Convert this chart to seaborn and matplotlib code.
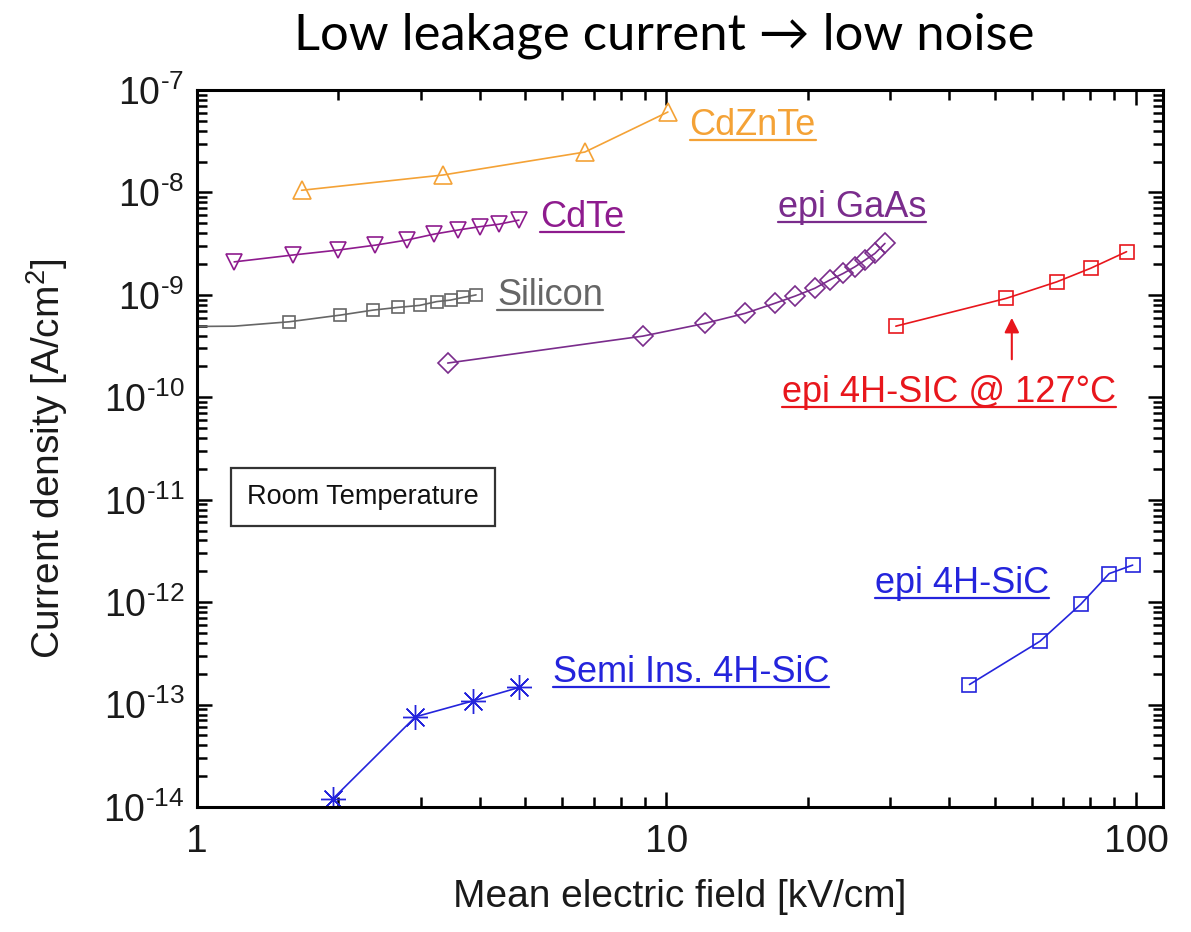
import numpy as np
import pandas as pd
import matplotlib
matplotlib.use("Agg")
import matplotlib.pyplot as plt
from matplotlib.lines import Line2D
import seaborn as sns

# ---------------- data ----------------
cdznte_x = [1.67, 3.34, 6.7, 10.07]
cdznte_y = [1.05e-8, 1.48e-8, 2.48e-8, 6.1e-8]

cdte_x = [1.2, 1.6, 2.0, 2.4, 2.8, 3.2, 3.6, 4.0, 4.4, 4.85]
cdte_y = [2.1e-9, 2.45e-9, 2.74e-9, 3.06e-9, 3.43e-9, 3.92e-9, 4.3e-9, 4.63e-9, 4.9e-9, 5.37e-9]

silicon_x = [0.9, 1.2, 1.57, 2.02, 2.37, 2.68, 2.98, 3.24, 3.47, 3.69, 3.93]
silicon_y = [4.9e-10, 4.95e-10, 5.46e-10, 6.35e-10, 7.1e-10, 7.55e-10, 7.9e-10, 8.6e-10, 8.9e-10, 9.46e-10, 1.0e-9]

gaas_x = [3.42, 8.91, 12.08, 14.7, 17.0, 18.8, 20.7, 22.3, 23.8, 25.2, 26.5, 27.8, 29.2]
gaas_y = [2.16e-10, 3.96e-10, 5.27e-10, 6.6e-10, 8.26e-10, 9.73e-10, 1.16e-9, 1.40e-9,
          1.62e-9, 1.88e-9, 2.19e-9, 2.54e-9, 3.18e-9]

sic127_x = [30.8, 52.9, 67.8, 80.1, 95.5]
sic127_y = [4.95e-10, 9.24e-10, 1.34e-9, 1.82e-9, 2.64e-9]

episic_x = [44.2, 62.5, 76.3, 87.7, 98.4]
episic_y = [1.57e-13, 4.16e-13, 9.55e-13, 1.9e-12, 2.3e-12]

semi_x = [1.95, 2.92, 3.88, 4.85]
semi_y = [1.21e-14, 7.6e-14, 1.09e-13, 1.47e-13]

x_ticks = [1, 10, 100]
x_ticklabels = ["1", "10", "100"]
y_exponents = list(range(-14, -6))

# ---------------- style ----------------
sns.set_style("ticks")
plt.rcParams["font.family"] = ["Liberation Sans", "DejaVu Sans"]
plt.rcParams["mathtext.fontset"] = "custom"
plt.rcParams["mathtext.rm"] = "Liberation Sans"
plt.rcParams["mathtext.it"] = "Liberation Sans"
plt.rcParams["axes.unicode_minus"] = False

ORANGE = "#F4A236"
PURPLE = "#8E1B8E"
GAAS = "#7A2C8C"
GRAY = "#666666"
RED = "#E8161C"
BLUE = "#2424DC"
TXT = "#1a1a1a"

fig = plt.figure(figsize=(11.91, 9.32), dpi=100)
ax = fig.add_axes([0.1654, 0.1341, 0.8111, 0.7693])
ax.set_xscale("log")
ax.set_yscale("log")

common = dict(ax=ax, sort=False, estimator=None, linewidth=1.2, markerfacecolor="none")

sns.lineplot(x=cdznte_x, y=cdznte_y, color=ORANGE, marker="^", markersize=13,
             markeredgecolor=ORANGE, markeredgewidth=1.2, **common)
sns.lineplot(x=cdte_x, y=cdte_y, color=PURPLE, marker="v", markersize=12,
             markeredgecolor=PURPLE, markeredgewidth=1.2, **common)
sns.lineplot(x=silicon_x, y=silicon_y, color=GRAY, marker="s", markersize=8,
             markeredgecolor=GRAY, markeredgewidth=1.2, markevery=slice(2, None), **common)
sns.lineplot(x=gaas_x, y=gaas_y, color=GAAS, marker="D", markersize=10,
             markeredgecolor=GAAS, markeredgewidth=1.2, **common)
sns.lineplot(x=sic127_x, y=sic127_y, color=RED, marker="s", markersize=9.5,
             markeredgecolor=RED, markeredgewidth=1.2, **common)
sns.lineplot(x=episic_x, y=episic_y, color=BLUE, marker="s", markersize=9.5,
             markeredgecolor=BLUE, markeredgewidth=1.2, **common)
sns.lineplot(x=semi_x, y=semi_y, color=BLUE, marker=(8, 2, 0), markersize=18,
             markeredgecolor=BLUE, markeredgewidth=1.0, **common)

ax.set_xlim(1, 114.2)
ax.set_ylim(1e-14, 1e-7)

# ticks
ax.tick_params(which="both", direction="in", top=True, right=True, width=1.8, color="black")
ax.tick_params(which="major", length=11)
ax.tick_params(which="minor", length=7)
ax.tick_params(axis="x", labelsize=28, pad=12, labelcolor=TXT)
ax.tick_params(axis="y", labelsize=27, pad=9, labelcolor=TXT)
ax.set_xticks(x_ticks)
ax.set_xticklabels(x_ticklabels)
ax.set_yticks([10.0 ** e for e in y_exponents])
ax.set_yticklabels([r"$10^{\text{%d}}$" % e for e in y_exponents])
ax.yaxis.set_minor_locator(matplotlib.ticker.LogLocator(base=10, subs=np.arange(2, 10), numticks=30))
ax.xaxis.set_minor_locator(matplotlib.ticker.LogLocator(base=10, subs=np.arange(2, 10), numticks=30))
for s in ax.spines.values():
    s.set_linewidth(2.2)
    s.set_color("black")

ax.set_xlabel("Mean electric field [kV/cm]", fontsize=28, color=TXT, labelpad=14)
ax.set_ylabel(r"Current density [A/cm$^2$]", fontsize=28, color=TXT, va="center")
ax.yaxis.set_label_coords(-0.155, 0.485)

fig.text(0.558, 0.962, "Low leakage current \u2192 low noise", fontsize=36.5,
         family=["Lato", "DejaVu Sans"], ha="center", va="center", color="black")

# labels with underline
labels = [
    ("CdZnTe", 11.2, 10 ** -7.439, ORANGE),
    ("CdTe", 5.38, 10 ** -8.338, PURPLE),
    ("Silicon", 4.355, 10 ** -9.100, GRAY),
    ("epi GaAs", 17.28, 10 ** -8.240, GAAS),
    ("epi 4H-SIC @ 127\u00b0C", 17.62, 10 ** -10.047, RED),
    ("epi 4H-SiC", 27.8, 10 ** -11.912, BLUE),
    ("Semi Ins. 4H-SiC", 5.73, 10 ** -12.781, BLUE),
]
texts = []
for s, x, y, c in labels:
    t = ax.text(x, y, s, fontsize=26, color=c, ha="left", va="baseline")
    texts.append((t, x, y, c))

ax.annotate("", xy=(54.4, 10 ** -9.197), xytext=(54.4, 10 ** -9.656),
            arrowprops=dict(arrowstyle="-|>", color=RED, lw=1.5, mutation_scale=22))

ax.text(2.257, 10 ** -10.975, "Room Temperature", fontsize=19.5, color="#111111",
        ha="center", va="center",
        bbox=dict(boxstyle="square,pad=0.6", facecolor="white", edgecolor="#333333", linewidth=1.6))

fig.canvas.draw()
r = fig.canvas.get_renderer()
for t, x, y, c in texts:
    bb = t.get_window_extent(renderer=r)
    _, by = ax.transData.transform((x, y))
    uy = by - 5
    x0, y0 = fig.transFigure.inverted().transform((bb.x0, uy))
    x1, _ = fig.transFigure.inverted().transform((bb.x1, uy))
    fig.add_artist(Line2D([x0, x1], [y0, y0], color=c, lw=1.6, transform=fig.transFigure))

fig.savefig("out.png", dpi=100)
